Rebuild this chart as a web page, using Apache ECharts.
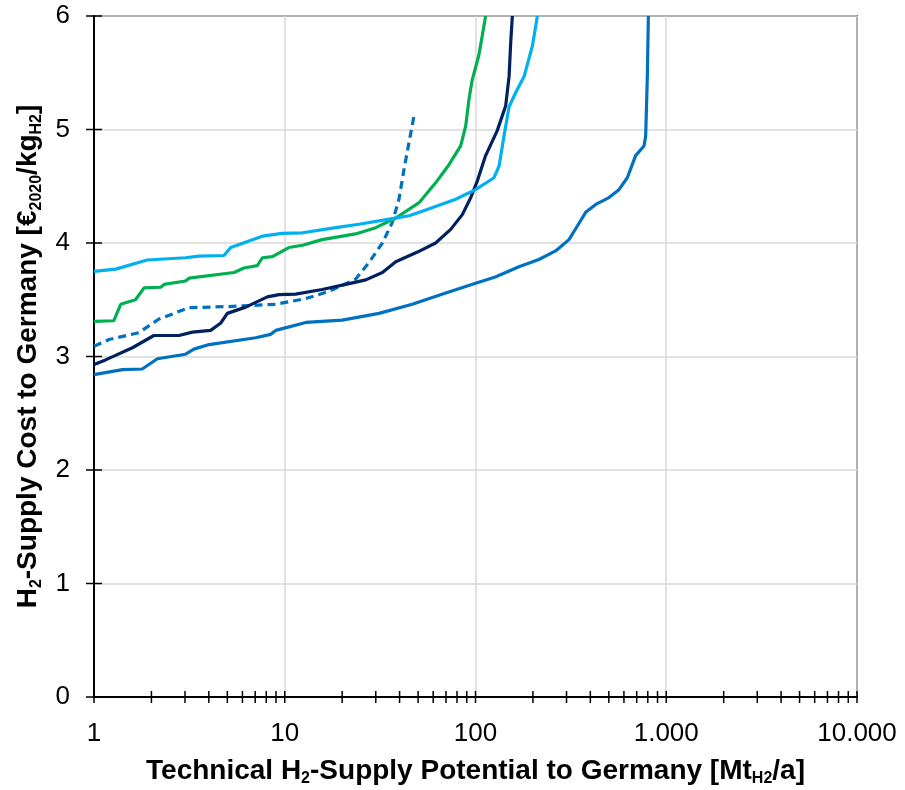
<!DOCTYPE html>
<html>
<head>
<meta charset="utf-8">
<script src="https://cdn.jsdelivr.net/npm/echarts@6/dist/echarts.min.js"></script>
<style>
	html, body { margin: 0; padding: 0; background: #fff; }
	#chart { width: 905px; height: 790px; }
</style>
</head>
<body>
<div id="chart"></div>
<script>
// x = supply potential [Mt/a], y = cost [EUR/kg]
var cyanX = [1, 1.30, 1.90, 3.02, 3.55, 4.80, 5.21, 7.63, 9.70, 12.4, 18.5, 24.5, 36.6, 44.8, 52.6, 78.7, 100, 125, 133, 141, 150, 163, 180, 199, 211];
var cyanY = [3.75, 3.77, 3.85, 3.87, 3.885, 3.89, 3.96, 4.06, 4.085, 4.09, 4.135, 4.165, 4.215, 4.24, 4.28, 4.385, 4.47, 4.575, 4.68, 4.94, 5.2, 5.33, 5.47, 5.74, 6.0];

var greenX = [1, 1.27, 1.38, 1.65, 1.83, 2.24, 2.33, 3.02, 3.15, 5.42, 6.11, 7.18, 7.63, 8.61, 10.5, 12.4, 15.7, 23.5, 30.0, 38.2, 50.6, 61.8, 72.6, 83.6, 88.8, 92.5, 96.2, 104, 108.6, 113];
var greenY = [3.31, 3.315, 3.46, 3.50, 3.605, 3.61, 3.635, 3.665, 3.69, 3.74, 3.78, 3.80, 3.87, 3.88, 3.96, 3.98, 4.03, 4.08, 4.135, 4.22, 4.355, 4.53, 4.69, 4.855, 5.03, 5.27, 5.44, 5.65, 5.83, 6.0];

var navyX = [1, 1.15, 1.59, 2.06, 2.79, 3.28, 4.09, 4.62, 5.0, 6.24, 8.10, 9.33, 11.4, 15.7, 20.9, 26.6, 32.5, 38.2, 49.6, 61.8, 74.1, 85.3, 94.4, 102.4, 113, 130, 144, 150, 153, 156];
var navyY = [2.93, 2.97, 3.077, 3.185, 3.185, 3.215, 3.23, 3.295, 3.38, 3.435, 3.525, 3.545, 3.55, 3.59, 3.635, 3.675, 3.74, 3.835, 3.92, 4.0, 4.12, 4.25, 4.40, 4.55, 4.77, 4.99, 5.21, 5.47, 5.77, 6.0];

var dashX = [1, 1.20, 1.72, 2.19, 3.15, 5.10, 8.97, 12.9, 17.1, 23.5, 27.7, 32.5, 36.6, 39.7, 42.2, 44.8, 47.6];
var dashY = [3.09, 3.15, 3.21, 3.33, 3.43, 3.44, 3.46, 3.51, 3.575, 3.68, 3.83, 4.0, 4.18, 4.385, 4.65, 4.885, 5.12];

var blueX = [1, 1.41, 1.79, 2.15, 3.02, 3.34, 4.01, 7.04, 8.44, 8.97, 12.9, 20.0, 31.2, 46.6, 69.8, 104, 127, 169, 215, 263, 309, 342, 378, 427, 501, 565, 625, 691, 764, 780, 796, 806];
var blueY = [2.84, 2.885, 2.89, 2.98, 3.02, 3.065, 3.105, 3.165, 3.195, 3.23, 3.30, 3.32, 3.38, 3.46, 3.56, 3.655, 3.70, 3.79, 3.855, 3.93, 4.03, 4.15, 4.27, 4.34, 4.40, 4.47, 4.575, 4.77, 4.855, 4.94, 5.47, 6.0];

// axis ticks
var xTicks = [1, 2, 3, 4, 5, 6, 7, 8, 9, 10, 20, 30, 40, 50, 60, 70, 80, 90, 100,
	200, 300, 400, 500, 600, 700, 800, 900, 1000, 2000, 3000, 4000, 5000, 6000, 7000, 8000, 9000, 10000];
var yTicks = [0, 1, 2, 3, 4, 5, 6];

var font = "'Liberation Sans', Arial, sans-serif";

function pairs(xs, ys) {
	var out = [];
	for (var i = 0; i < xs.length; i++) {
		out.push([xs[i], ys[i]]);
	}
	return out;
}

function fmt(v) {
	return String(v).replace(/\B(?=(\d{3})+(?!\d))/g, ".");
}

function curve(name, xs, ys, color, dashed) {
	return {
		name: name,
		type: 'line',
		data: pairs(xs, ys),
		showSymbol: false,
		symbol: 'none',
		smooth: false,
		lineStyle: { color: color, width: 3.2, type: dashed ? [8, 5] : 'solid' },
		z: 3
	};
}

var nameRich = {
	b: { fontFamily: font, fontWeight: 'bold', fontSize: 28, color: '#000', lineHeight: 32 },
	s: { fontFamily: font, fontWeight: 'bold', fontSize: 16, color: '#000', lineHeight: 16, verticalAlign: 'bottom' }
};

var chart = echarts.init(document.getElementById('chart'));

var option = {
	animation: false,
	backgroundColor: '#fff',
	grid: {
		left: 94, right: 48, top: 16, bottom: 93,
		outerBoundsMode: 'none',
		containLabel: false,
		show: true, borderColor: '#000', borderWidth: 1.5
	},
	xAxis: {
		type: 'log',
		logBase: 10,
		min: 1,
		max: 10000,
		axisLine: { lineStyle: { color: '#000', width: 2 } },
		axisTick: { show: false },
		axisLabel: { fontFamily: font, fontSize: 26, color: '#000', margin: 24, formatter: fmt },
		splitLine: { show: true, lineStyle: { color: '#d9d9d9', width: 1.5 } },
		name: '{b|Technical H}{s|2}{b|-Supply Potential to Germany [Mt}{s|H2}{b|/a]}',
		nameLocation: 'middle',
		nameGap: 58,
		nameTextStyle: { rich: nameRich }
	},
	yAxis: {
		type: 'value',
		min: 0,
		max: 6,
		interval: 1,
		axisLine: { show: true, lineStyle: { color: '#000', width: 2 } },
		axisTick: { show: false },
		axisLabel: { fontFamily: font, fontSize: 26, color: '#000', margin: 24 },
		splitLine: { show: true, lineStyle: { color: '#d9d9d9', width: 1.5 } },
		name: '{b|H}{s|2}{b|-Supply Cost to Germany [€}{s|2020}{b|/kg}{s|H2}{b|]}',
		nameLocation: 'middle',
		nameRotate: 90,
		nameGap: 42,
		nameTextStyle: { rich: nameRich }
	},
	series: [
		curve('A', blueX, blueY, '#0070C0', false),
		curve('B', dashX, dashY, '#0070C0', true),
		curve('C', navyX, navyY, '#002060', false),
		curve('D', greenX, greenY, '#00B050', false),
		curve('E', cyanX, cyanY, '#00B0F0', false),
		{
			type: 'custom',
			silent: true,
			clip: false,
			z: 5,
			data: xTicks,
			renderItem: function (params, api) {
				var p = api.coord([api.value(0), 0]);
				return {
					type: 'line',
					shape: { x1: p[0], y1: p[1] - 6, x2: p[0], y2: p[1] + 6 },
					style: { stroke: '#000', lineWidth: 1.5 }
				};
			},
			encode: { x: 0 }
		},
		{
			type: 'custom',
			silent: true,
			clip: false,
			z: 5,
			data: yTicks,
			renderItem: function (params, api) {
				var p = api.coord([1, api.value(0)]);
				return {
					type: 'line',
					shape: { x1: p[0] - 8, y1: p[1], x2: p[0] + 8, y2: p[1] },
					style: { stroke: '#000', lineWidth: 1.5 }
				};
			},
			encode: { y: 0 }
		}
	]
};

chart.setOption(option);
</script>
</body>
</html>
